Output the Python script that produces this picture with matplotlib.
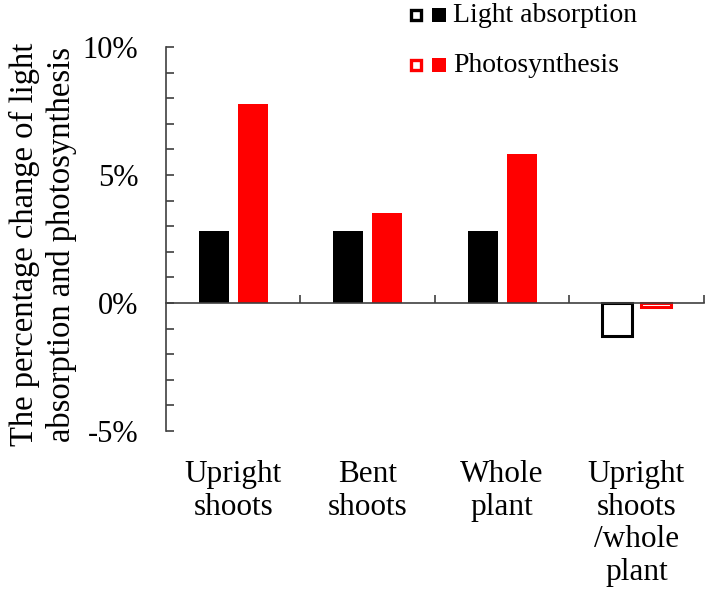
import numpy as np
import matplotlib.pyplot as plt
from matplotlib.ticker import MultipleLocator, FuncFormatter
from matplotlib.lines import Line2D

plt.rcParams['font.family'] = ['Liberation Serif', 'DejaVu Serif']

groups = ["Upright\nshoots", "Bent\nshoots", "Whole\nplant", "Upright\nshoots\n/whole\nplant"]
series = ["Light absorption", "Photosynthesis"]
light = [2.83, 2.83, 2.83, -1.3]
photo = [7.78, 3.5, 5.84, -0.15]
colors = ['black', 'red']

fig = plt.figure(figsize=(7.09, 5.96), dpi=100)
ax = fig.add_axes([0.234, 0.277, 0.7585, 0.644])

x = np.arange(len(groups)) + 0.5
w = 0.223
off = 0.145
axis_col = '#404040'

# filled bars for positive change, hollow for negative
for vals, c, sign in [(light, colors[0], -1), (photo, colors[1], 1)]:
    for xi, v in zip(x, vals):
        if v >= 0:
            ax.bar(xi + sign * off, v, w, color=c, linewidth=0)
        else:
            ax.bar(xi + sign * off, v, w, facecolor='white', edgecolor=c, linewidth=2.2)

ax.set_xlim(0, 4)
ax.set_ylim(-5, 10)

for s in ['top', 'right']:
    ax.spines[s].set_visible(False)
ax.spines['bottom'].set_position(('data', 0))
for s in ['bottom', 'left']:
    ax.spines[s].set_color(axis_col)
    ax.spines[s].set_linewidth(1.2)

ax.yaxis.set_major_locator(MultipleLocator(5))
ax.yaxis.set_minor_locator(MultipleLocator(1))
ax.yaxis.set_major_formatter(FuncFormatter(lambda v, p: "%d%%" % v))
ax.tick_params(axis='y', which='both', direction='in', length=6, width=1.2,
               color=axis_col, labelsize=22, pad=20)
ax.set_xticks([1, 2, 3, 4])
ax.set_xticklabels([])
ax.tick_params(axis='x', direction='in', length=6, width=1.2, color=axis_col)

for xi, g in zip(x, groups):
    ax.text(xi, -6.12, g, ha='center', va='top', fontsize=22.5, linespacing=1.18)

fig.text(0.06, 0.59, "The percentage change of light\nabsorption and photosynthesis",
         rotation=90, ha='center', va='center', fontsize=23.5, linespacing=1.25)

# legend: hollow + filled square per series
for i, (lab, c) in enumerate(zip(series, colors)):
    yy = 1 - (15 + 50 * i) / 596
    fig.add_artist(Line2D([416 / 709], [yy], transform=fig.transFigure, marker='s', ls='',
                          mfc='white', mec=c, ms=7.8, mew=2.4))
    fig.add_artist(Line2D([439 / 709], [yy], transform=fig.transFigure, marker='s', ls='',
                          mfc=c, mec=c, ms=10.2, mew=0))
    fig.text(453 / 709, yy, lab, ha='left', va='center', fontsize=20)

fig.savefig("out.png", dpi=100)
